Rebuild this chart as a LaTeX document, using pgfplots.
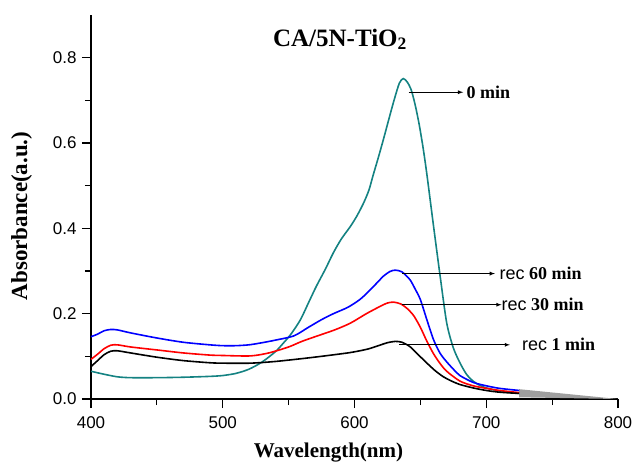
\documentclass[border=0pt]{standalone}
\usepackage{pgfplots}
\pgfplotsset{compat=1.18}
\usepackage{fontspec}
\setmainfont{Liberation Serif}
\newfontfamily\arial{Liberation Sans}
\definecolor{teal1}{RGB}{20,130,130}
\begin{document}
\begin{tikzpicture}
\begin{axis}[
  scale only axis, width=527pt, height=384pt,
  xmin=400, xmax=800, ymin=0, ymax=0.9,
  axis x line*=bottom, axis y line*=left,
  axis line style={line width=1.2pt, black},
  xtick={400,500,600,700,800}, minor xtick={450,550,650,750},
  ytick={0,0.2,0.4,0.6,0.8}, minor ytick={0.1,0.3,0.5,0.7},
  tick align=outside,
  major tick length=9pt, minor tick length=6pt,
  every tick/.append style={line width=1.2pt, black},
  y tick label style={/pgf/number format/fixed, /pgf/number format/fixed zerofill, /pgf/number format/precision=1, xshift=-2pt},
  x tick label style={yshift=-5pt},
  /pgf/number format/assume math mode=true,
  tick label style={font=\arial\fontsize{17}{17}\selectfont},
  xlabel={\bfseries Wavelength(nm)}, ylabel={\bfseries Absorbance(a.u.)},
  xlabel style={font=\fontsize{21}{21}\selectfont, at={(axis description cs:0.4505,0)}, anchor=north, yshift=-40pt},
  ylabel style={font=\fontsize{23}{23}\selectfont, at={(axis description cs:-0.105,0.4766)}, anchor=south},
  clip=false,
]
\addplot[fill=gray!75, draw=none, forget plot] coordinates {(725,0.004)(725,0.023)(800,0)};
\addplot[teal1, line width=1.6pt, smooth, tension=0.45] coordinates {
(400,0.065)(410,0.058)(420,0.052)(430,0.050)(450,0.050)(470,0.051)(490,0.053)(500,0.055)(510,0.060)(520,0.070)(530,0.087)(540,0.111)(546,0.131)(552,0.153)(559,0.186)(565,0.225)(571,0.264)(578,0.305)(584,0.343)(590,0.375)(597,0.405)(602,0.430)(607,0.460)(611,0.490)(614,0.523)(618,0.565)(622,0.609)(626,0.655)(630,0.700)(634,0.740)(637,0.751)(640,0.743)(643,0.725)(646,0.690)(649,0.645)(652,0.590)(655,0.525)(660,0.405)(665,0.288)(670,0.178)(675,0.120)(680,0.085)(685,0.058)(690,0.042)(695,0.032)(700,0.026)(710,0.019)(725,0.013)};
\addplot[blue, line width=1.6pt, smooth, tension=0.45] coordinates {
(400,0.146)(405,0.152)(410,0.160)(415,0.163)(420,0.162)(430,0.155)(450,0.143)(470,0.133)(490,0.127)(500,0.125)(510,0.125)(520,0.127)(530,0.132)(540,0.138)(554,0.148)(565,0.168)(575,0.186)(584,0.200)(595,0.215)(604,0.233)(610,0.250)(617,0.272)(622,0.288)(627,0.299)(631,0.302)(636,0.298)(642,0.280)(646,0.258)(650,0.233)(655,0.185)(660,0.139)(665,0.107)(670,0.087)(675,0.070)(680,0.055)(690,0.039)(700,0.031)(710,0.025)(725,0.020)};
\addplot[red, line width=1.6pt, smooth, tension=0.45] coordinates {
(400,0.093)(405,0.105)(410,0.118)(415,0.126)(420,0.127)(430,0.122)(450,0.115)(470,0.108)(490,0.103)(500,0.102)(521,0.101)(535,0.108)(550,0.122)(560,0.135)(571,0.147)(585,0.162)(597,0.178)(609,0.200)(620,0.218)(625,0.225)(629.5,0.227)(635,0.223)(640,0.212)(645,0.195)(650,0.168)(655,0.135)(660,0.106)(665,0.083)(670,0.065)(680,0.042)(690,0.031)(700,0.025)(710,0.020)(725,0.015)};
\addplot[black, line width=1.6pt, smooth, tension=0.45] coordinates {
(400,0.076)(405,0.090)(410,0.104)(415,0.112)(420,0.113)(430,0.108)(450,0.098)(470,0.090)(490,0.085)(500,0.084)(521,0.084)(540,0.088)(564,0.096)(580,0.102)(597,0.109)(610,0.117)(620,0.127)(625,0.132)(631,0.135)(636,0.133)(642,0.123)(648,0.105)(655,0.084)(661,0.067)(667,0.053)(673,0.043)(680,0.034)(690,0.026)(700,0.020)(710,0.016)(725,0.013)};
% annotations
\draw[-latex, line width=0.8pt] (axis cs:641,0.719) -- (axis cs:682.5,0.719);
\node[anchor=west, font=\fontsize{18}{18}\selectfont\bfseries, inner sep=0pt] at (axis cs:685,0.719) {0 min};
\draw[-latex, line width=0.8pt] (axis cs:636,0.294) -- (axis cs:706.6,0.294);
\node[anchor=west, font=\fontsize{18}{18}\selectfont, inner sep=0pt] at (axis cs:710,0.294) {{\arial rec} \textbf{60 min}};
\draw[-latex, line width=0.8pt] (axis cs:636,0.221) -- (axis cs:711.6,0.221);
\node[anchor=west, font=\fontsize{18}{18}\selectfont, inner sep=0pt] at (axis cs:711.6,0.221) {{\arial rec} \textbf{30 min}};
\draw[-latex, line width=0.8pt] (axis cs:634,0.127) -- (axis cs:718,0.127);
\node[anchor=west, font=\fontsize{18}{18}\selectfont, inner sep=0pt] at (axis cs:727,0.127) {{\arial rec} \textbf{1 min}};
\node[font=\fontsize{25}{25}\selectfont\bfseries] at (axis cs:589,0.843) {CA/5N-TiO\textsubscript{2}};
% positions of the major ticks
\coordinate (tx1) at (axis cs:400,0);
\coordinate (tx2) at (axis cs:500,0);
\coordinate (tx3) at (axis cs:600,0);
\coordinate (tx4) at (axis cs:700,0);
\coordinate (tx5) at (axis cs:800,0);
\coordinate (ty1) at (axis cs:400,0);
\coordinate (ty2) at (axis cs:400,0.2);
\coordinate (ty3) at (axis cs:400,0.4);
\coordinate (ty4) at (axis cs:400,0.6);
\coordinate (ty5) at (axis cs:400,0.8);
\coordinate (bl) at (rel axis cs:0,0);
\coordinate (tr) at (rel axis cs:1,1);
\end{axis}
% major tick marks
\foreach \i in {1,...,5} {
  \draw[line width=1.2pt, black] (tx\i) -- ++(0,-9pt);
  \draw[line width=1.2pt, black] (ty\i) -- ++(-9pt,0);
}
\pgfresetboundingbox
\path[use as bounding box] ([shift={(-91pt,-65pt)}]bl) rectangle ([shift={(18pt,15pt)}]tr);
\end{tikzpicture}
\end{document}
